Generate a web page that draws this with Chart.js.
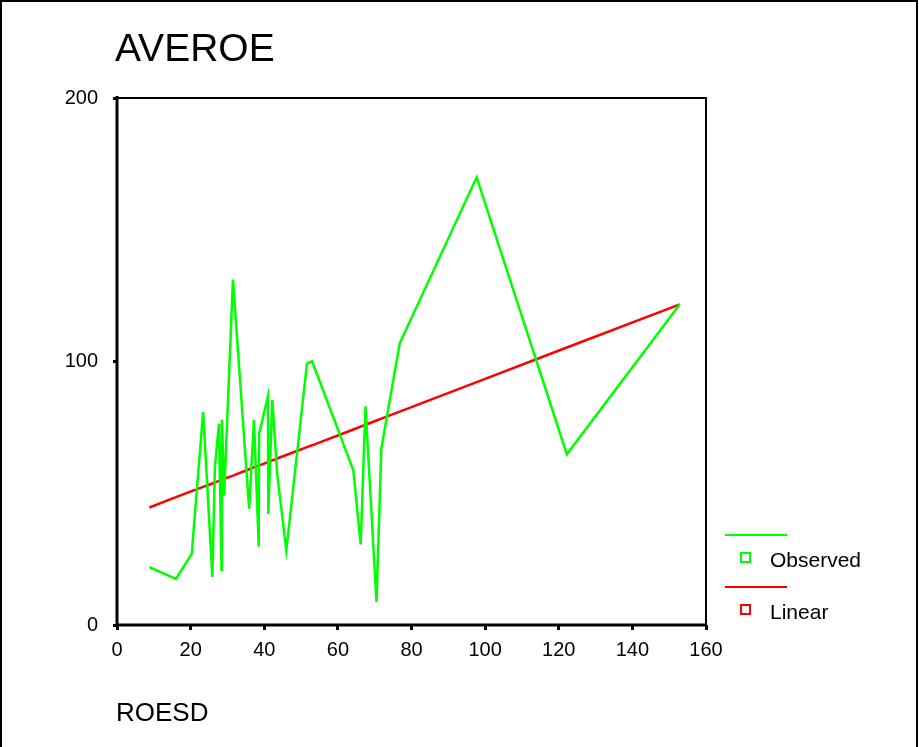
<!DOCTYPE html>
<html>
<head>
<meta charset="utf-8">
<script src="https://cdn.jsdelivr.net/npm/chart.js@4/dist/chart.umd.min.js"></script>
<style>
  html, body { margin: 0; padding: 0; background: #fff; overflow: hidden; }
  #wrap { position: relative; width: 919px; height: 747px; }
  #frame { position: absolute; left: 0; top: 0; width: 914px; height: 800px; border: 2px solid #000; }
  canvas { position: absolute; left: 0; top: 0; }
  .txt { position: absolute; font-family: "Liberation Sans", Arial, sans-serif; color: #000; white-space: nowrap; }
  #title { left: 115px; top: 26px; font-size: 39px; }
  #xtitle { left: 116px; top: 697px; font-size: 26px; }
  .lline { position: absolute; height: 2px; width: 62px; left: 725px; }
  .lbox { position: absolute; width: 7px; height: 7px; border-width: 2px; border-style: solid; left: 740px; }
  .ltxt { left: 770px; font-size: 21px; }
</style>
</head>
<body>
<div id="wrap">
  <div id="frame"></div>
  <canvas id="c" width="919" height="747"></canvas>
  <div class="txt" id="title">AVEROE</div>
  <div class="txt" id="xtitle">ROESD</div>
  <div class="lline" style="top:534px;background:#00ff00"></div>
  <div class="lbox" style="top:552px;border-color:#00ff00"></div>
  <div class="txt ltxt" style="top:548px">Observed</div>
  <div class="lline" style="top:586px;background:#ff0000"></div>
  <div class="lbox" style="top:604px;border-color:#ff0000"></div>
  <div class="txt ltxt" style="top:600px">Linear</div>
</div>
<script>
// ROESD values (x)
const roesd = [8.8, 16.0, 20.3, 23.4, 25.9, 26.6, 27.7, 28.4, 28.5, 29.1, 31.5, 35.9, 37.2, 38.5, 38.6,
               41.0, 41.1, 42.2, 43.5, 46.0, 51.6, 53.0, 64.2, 66.2, 67.5, 70.5, 71.8, 76.8, 97.7, 122.2, 152.9];
// Observed AVEROE
const observed = [22.0, 17.5, 27.0, 80.8, 18.2, 59.9, 76.4, 21.0, 77.9, 49.2, 131.1, 44.1, 77.9, 29.8, 72.6,
                  86.8, 42.0, 85.5, 57.4, 28.3, 99.2, 100.1, 58.7, 30.6, 83.0, 8.7, 66.9, 106.9, 169.9, 64.8, 121.7];
// Linear fit values
const linear = [44.6, 48.5, 50.8, 52.4, 53.7, 54.1, 54.7, 55.1, 55.1, 55.5, 56.7, 59.1, 59.8, 60.5, 60.5,
                61.8, 61.9, 62.5, 63.2, 64.5, 67.5, 68.2, 74.2, 75.3, 76.0, 77.6, 78.3, 81.0, 92.2, 105.3, 121.7];
const xTicks = [0, 20, 40, 60, 80, 100, 120, 140, 160];
const yTicks = [0, 100, 200];

const obsPts = roesd.map((x, i) => ({x: x, y: observed[i]}));
const linPts = roesd.map((x, i) => ({x: x, y: linear[i]}));

const framePlugin = {
  id: 'frame',
  afterDatasetsDraw(chart) {
    const a = chart.chartArea, ctx = chart.ctx;
    ctx.save();
    ctx.strokeStyle = '#000';
    ctx.lineWidth = 2;
    ctx.strokeRect(a.left, a.top, a.right - a.left, a.bottom - a.top);
    ctx.lineWidth = 3;
    ctx.beginPath();
    ctx.moveTo(a.left, a.top - 2); ctx.lineTo(a.left, a.bottom); ctx.lineTo(a.right, a.bottom);
    ctx.stroke();
    ctx.restore();
  }
};

new Chart(document.getElementById('c'), {
  type: 'scatter',
  data: {
    datasets: [
      { label: 'Observed', data: obsPts, showLine: true, borderColor: '#00ff00', backgroundColor: '#00ff00',
        borderWidth: 2.5, pointRadius: 0, tension: 0 },
      { label: 'Linear', data: linPts, showLine: true, borderColor: '#ff0000', backgroundColor: '#ff0000',
        borderWidth: 2.5, pointRadius: 0, tension: 0 }
    ]
  },
  options: {
    responsive: false,
    animation: false,
    events: [],
    layout: { padding: { left: 0, top: 98, right: 213, bottom: 0 } },
    plugins: { legend: { display: false }, tooltip: { enabled: false }, title: { display: false } },
    scales: {
      x: {
        type: 'linear', min: 0, max: 160,
        afterBuildTicks: s => { s.ticks = xTicks.map(v => ({value: v})); },
        afterFit: s => { s.height = 122; },
        grid: { drawOnChartArea: false, drawTicks: true, tickLength: 5, tickWidth: 3, color: '#000' },
        border: { display: false },
        ticks: { color: '#000', padding: 8, maxRotation: 0, font: { family: 'Liberation Sans', size: 20 } }
      },
      y: {
        type: 'linear', min: 0, max: 200,
        afterBuildTicks: s => { s.ticks = yTicks.map(v => ({value: v})); },
        afterFit: s => { s.width = 117; },
        grid: { drawOnChartArea: false, drawTicks: true, tickLength: 4, tickWidth: 3, color: '#000' },
        border: { display: false },
        ticks: { color: '#000', padding: 15, font: { family: 'Liberation Sans', size: 20 } }
      }
    }
  },
  plugins: [framePlugin]
});
</script>
</body>
</html>
